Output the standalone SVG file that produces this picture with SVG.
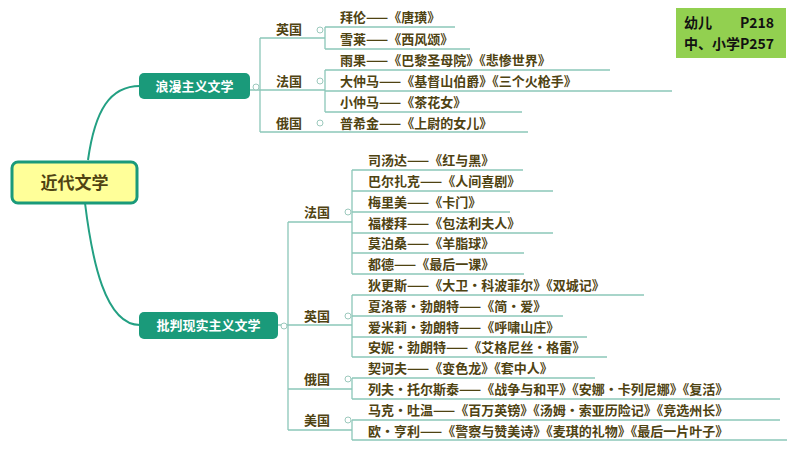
<svg xmlns="http://www.w3.org/2000/svg" width="800" height="450" viewBox="0 0 800 450">
<style>
text{font-family:"Noto Sans CJK SC","Liberation Sans",sans-serif;font-weight:bold}
.l{font-size:13px;fill:#4f4312}
.c{font-size:13px;fill:#4f4312}
.ln{stroke:#8cc7b9;stroke-width:1.3;fill:none}
.br{stroke:#23a083;stroke-width:2;fill:none}
.dot{fill:#fff;stroke:#9cc9bd;stroke-width:1}
</style>
<rect width="800" height="450" fill="#fff"/>
<g id="connectors">
<path class="br" d="M88,160 C95,110 110,86 140,86"/>
<path class="br" d="M85,203 C92,260 105,325 140,325"/>
<path class="ln" d="M250,90 H260 M260,38 V132 M260,38 H320 M260,90 H320 M260,132 H320"/>
<path class="ln" d="M325,27 V49 M325,70 V112 M320,38 H325 M320,90 H325"/>
<path class="ln" d="M325,27 H455 M325,49 H470 M325,70 H610 M325,91 H672 M325,112 H522 M320,132 H528"/>
<path class="ln" d="M278,325 H288 M288,222 V430 M288,222 H352 M288,325 H352 M288,389 H352 M288,430 H352"/>
<path class="ln" d="M352,170 V274 M352,295 V357 M352,378 V399 M352,420 V440"/>
<path class="ln" d="M352,170 H523 M352,191 H553 M352,212 H510 M352,233 H553 M352,253 H524 M352,274 H524 M352,295 H644 M352,316 H563 M352,337 H587 M352,357 H607 M352,378 H595 M352,399 H780 M352,420 H780 M352,440 H787"/>
<circle class="dot" cx="256" cy="87" r="3"/>
<circle class="dot" cx="320" cy="30" r="3"/><circle class="dot" cx="320" cy="81" r="3"/><circle class="dot" cx="320" cy="123" r="3"/>
<circle class="dot" cx="284" cy="326" r="3"/>
<circle class="dot" cx="348" cy="212" r="3"/><circle class="dot" cx="348" cy="316" r="3"/><circle class="dot" cx="348" cy="379" r="3"/><circle class="dot" cx="348" cy="420" r="3"/>
</g>
<g id="root"><rect x="12" y="162" width="125" height="41" rx="6" fill="#ffff99" stroke="#1a9a7a" stroke-width="3"/><text x="74.5" y="189" font-size="17" fill="#4f4312" text-anchor="middle">近代文学</text></g>
<g id="romantic"><rect x="139" y="73" width="111" height="26" rx="5" fill="#1a9a7a"/><text x="194.5" y="91" font-size="13" fill="#fff" text-anchor="middle">浪漫主义文学</text></g>
<g id="critical"><rect x="139" y="312" width="139" height="27" rx="5" fill="#1a9a7a"/><text x="208.5" y="330" font-size="13" fill="#fff" text-anchor="middle">批判现实主义文学</text></g>
<g id="note"><rect x="676" y="8" width="110" height="50" fill="#92d050"/><text x="684" y="28" font-size="14" fill="#111">幼儿 <tspan x="740">P218</tspan></text><text x="684" y="49" font-size="14" fill="#111">中、小学P257</text></g>
<g id="r-countries">
<text class="c" x="276" y="34">英国</text><text class="c" x="276" y="86">法国</text><text class="c" x="276" y="128">俄国</text>
</g>
<g id="r-leaves">
<text class="l" x="340" y="22">拜伦——《唐璜》</text>
<text class="l" x="340" y="44">雪莱——《西风颂》</text>
<text class="l" x="340" y="65">雨果——《巴黎圣母院》《悲惨世界》</text>
<text class="l" x="340" y="86">大仲马——《基督山伯爵》《三个火枪手》</text>
<text class="l" x="340" y="107">小仲马——《茶花女》</text>
<text class="l" x="340" y="128">普希金——《上尉的女儿》</text>
</g>
<g id="c-countries">
<text class="c" x="304" y="217">法国</text><text class="c" x="304" y="321">英国</text><text class="c" x="304" y="384">俄国</text><text class="c" x="304" y="425">美国</text>
</g>
<g id="c-leaves">
<text class="l" x="368" y="165">司汤达——《红与黑》</text>
<text class="l" x="368" y="186">巴尔扎克——《人间喜剧》</text>
<text class="l" x="368" y="207">梅里美——《卡门》</text>
<text class="l" x="368" y="228">福楼拜——《包法利夫人》</text>
<text class="l" x="368" y="248">莫泊桑——《羊脂球》</text>
<text class="l" x="368" y="269">都德——《最后一课》</text>
<text class="l" x="368" y="290">狄更斯——《大卫·科波菲尔》《双城记》</text>
<text class="l" x="368" y="311">夏洛蒂·勃朗特——《简·爱》</text>
<text class="l" x="368" y="332">爱米莉·勃朗特——《呼啸山庄》</text>
<text class="l" x="368" y="352">安妮·勃朗特——《艾格尼丝·格雷》</text>
<text class="l" x="368" y="373">契诃夫——《变色龙》《套中人》</text>
<text class="l" x="368" y="394">列夫·托尔斯泰——《战争与和平》《安娜·卡列尼娜》《复活》</text>
<text class="l" x="368" y="415">马克·吐温——《百万英镑》《汤姆·索亚历险记》《竞选州长》</text>
<text class="l" x="368" y="436">欧·亨利——《警察与赞美诗》《麦琪的礼物》《最后一片叶子》</text>
</g>
</svg>
